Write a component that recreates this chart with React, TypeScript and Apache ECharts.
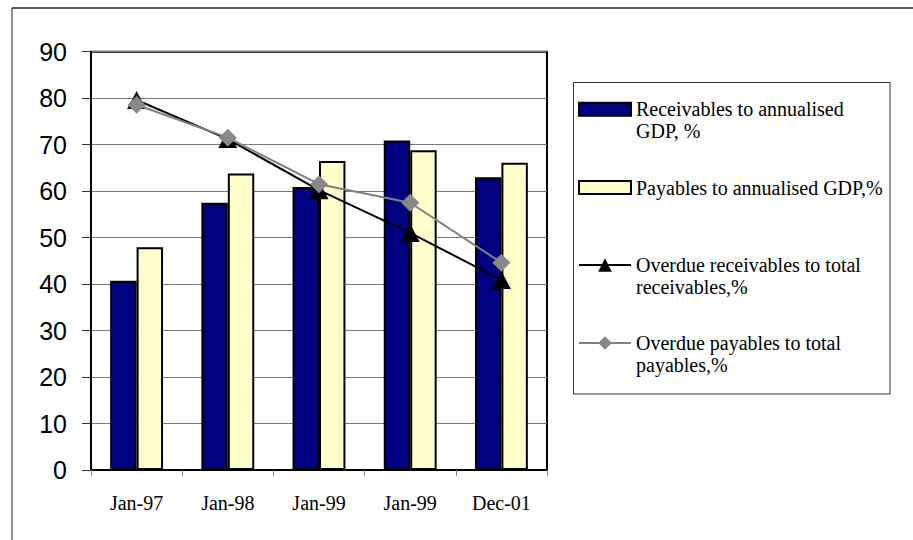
import React, { useEffect, useRef } from 'react';
import * as echarts from 'echarts';

const categories = ['Jan-97', 'Jan-98', 'Jan-99', 'Jan-99', 'Dec-01'];
const receivablesGdp = [40.7, 57.5, 60.9, 70.9, 63.0];
const payablesGdp = [47.9, 63.8, 66.5, 68.8, 66.1];
const overdueReceivables = [79.6, 71.2, 60.2, 51.0, 40.9];
const overduePayables = [78.6, 71.5, 61.5, 57.5, 44.6];

const seriesNames = [
  'Receivables to annualised GDP, %',
  'Payables to annualised GDP,%',
  'Overdue receivables to total receivables,%',
  'Overdue payables to total payables,%',
];
const legendLines = [
  ['Receivables to annualised', 'GDP, %'],
  ['Payables to annualised GDP,%'],
  ['Overdue receivables to total', 'receivables,%'],
  ['Overdue payables to total', 'payables,%'],
];

const yMin = 0;
const yMax = 90;
const yStep = 10;

export default function App() {
  const ref = useRef<HTMLDivElement>(null);
  useEffect(() => {
    const chart = echarts.init(ref.current!, null, { renderer: 'svg' });
    const serif = 'Liberation Serif';
    const legendText = {
      fontFamily: serif,
      fontSize: 20,
      color: '#000',
      lineHeight: 22,
      backgroundColor: 'rgba(255,255,255,0)',
    };
    const mkLegend = (i: number, top: number, itemHeight: number, extra: any = {}) => ({
      data: [{ name: seriesNames[i], ...extra }],
      left: 578,
      top,
      orient: 'vertical',
      itemWidth: 52,
      itemHeight,
      padding: 0,
      selectedMode: false,
      formatter: () => (legendLines[i].length > 1 ? '\n' + legendLines[i].join('\n') : legendLines[i][0]),
      textStyle: legendText,
    });
    const barLegendStyle = { icon: 'rect', itemStyle: { borderColor: '#000', borderWidth: 2 } };
    chart.setOption({
      animation: false,
      backgroundColor: '#fff',
      grid: {
        left: 91,
        top: 51.7,
        right: 366,
        bottom: 70,
        show: true,
        borderColor: '#000',
        borderWidth: 2,
        containLabel: false,
      },
      legend: [
        mkLegend(0, 76.2, 13, barLegendStyle),
        mkLegend(1, 176.5, 13, barLegendStyle),
        mkLegend(2, 232, 17),
        mkLegend(3, 310, 17),
      ],
      xAxis: {
        type: 'category',
        data: categories,
        boundaryGap: true,
        axisLine: { show: true, lineStyle: { color: '#000', width: 2 } },
        axisTick: { show: true, length: 6, alignWithLabel: false, lineStyle: { color: '#808080', width: 1 } },
        axisLabel: { interval: 0, margin: 23, fontFamily: serif, fontSize: 20, color: '#000' },
        splitLine: { show: false },
      },
      yAxis: {
        type: 'value',
        min: yMin,
        max: yMax,
        interval: yStep,
        axisLine: { show: true, lineStyle: { color: '#000', width: 2 } },
        axisTick: { show: true, length: 9, lineStyle: { color: '#333', width: 1 } },
        axisLabel: { margin: 24, fontFamily: 'Liberation Sans', fontSize: 25, color: '#000' },
        splitLine: { show: true, lineStyle: { color: '#7a7a7a', width: 1.2 } },
      },
      graphic: [
        { type: 'line', shape: { x1: 12, y1: 8, x2: 913, y2: 8 }, style: { stroke: '#222', lineWidth: 1.5 }, z: 0 },
        { type: 'line', shape: { x1: 12, y1: 8, x2: 12, y2: 540 }, style: { stroke: '#222', lineWidth: 1 }, z: 0 },
        {
          type: 'rect',
          shape: { x: 573.5, y: 82.5, width: 316.5, height: 311.5 },
          style: { fill: 'none', stroke: '#333', lineWidth: 1 },
          z: 0,
        },
      ],
      series: [
        {
          name: seriesNames[0],
          type: 'bar',
          data: receivablesGdp,
          barGap: '0%',
          barCategoryGap: '42%',
          itemStyle: { color: '#000080', borderColor: '#000', borderWidth: 2 },
        },
        {
          name: seriesNames[1],
          type: 'bar',
          data: payablesGdp,
          barGap: '0%',
          barCategoryGap: '42%',
          itemStyle: { color: '#FFFFCC', borderColor: '#000', borderWidth: 2 },
        },
        {
          name: seriesNames[2],
          type: 'line',
          data: overdueReceivables,
          symbol: 'triangle',
          symbolSize: [19, 18],
          lineStyle: { color: '#000', width: 2 },
          itemStyle: { color: '#000' },
          z: 3,
        },
        {
          name: seriesNames[3],
          type: 'line',
          data: overduePayables,
          symbol: 'diamond',
          symbolSize: 18,
          lineStyle: { color: '#808080', width: 2 },
          itemStyle: { color: '#888888' },
          z: 4,
        },
      ],
    });
    return () => chart.dispose();
  }, []);
  return (
    <div
      ref={ref}
      style={{ position: 'fixed', left: 0, top: 0, width: 913, height: 540, background: '#fff' }}
    />
  );
}
